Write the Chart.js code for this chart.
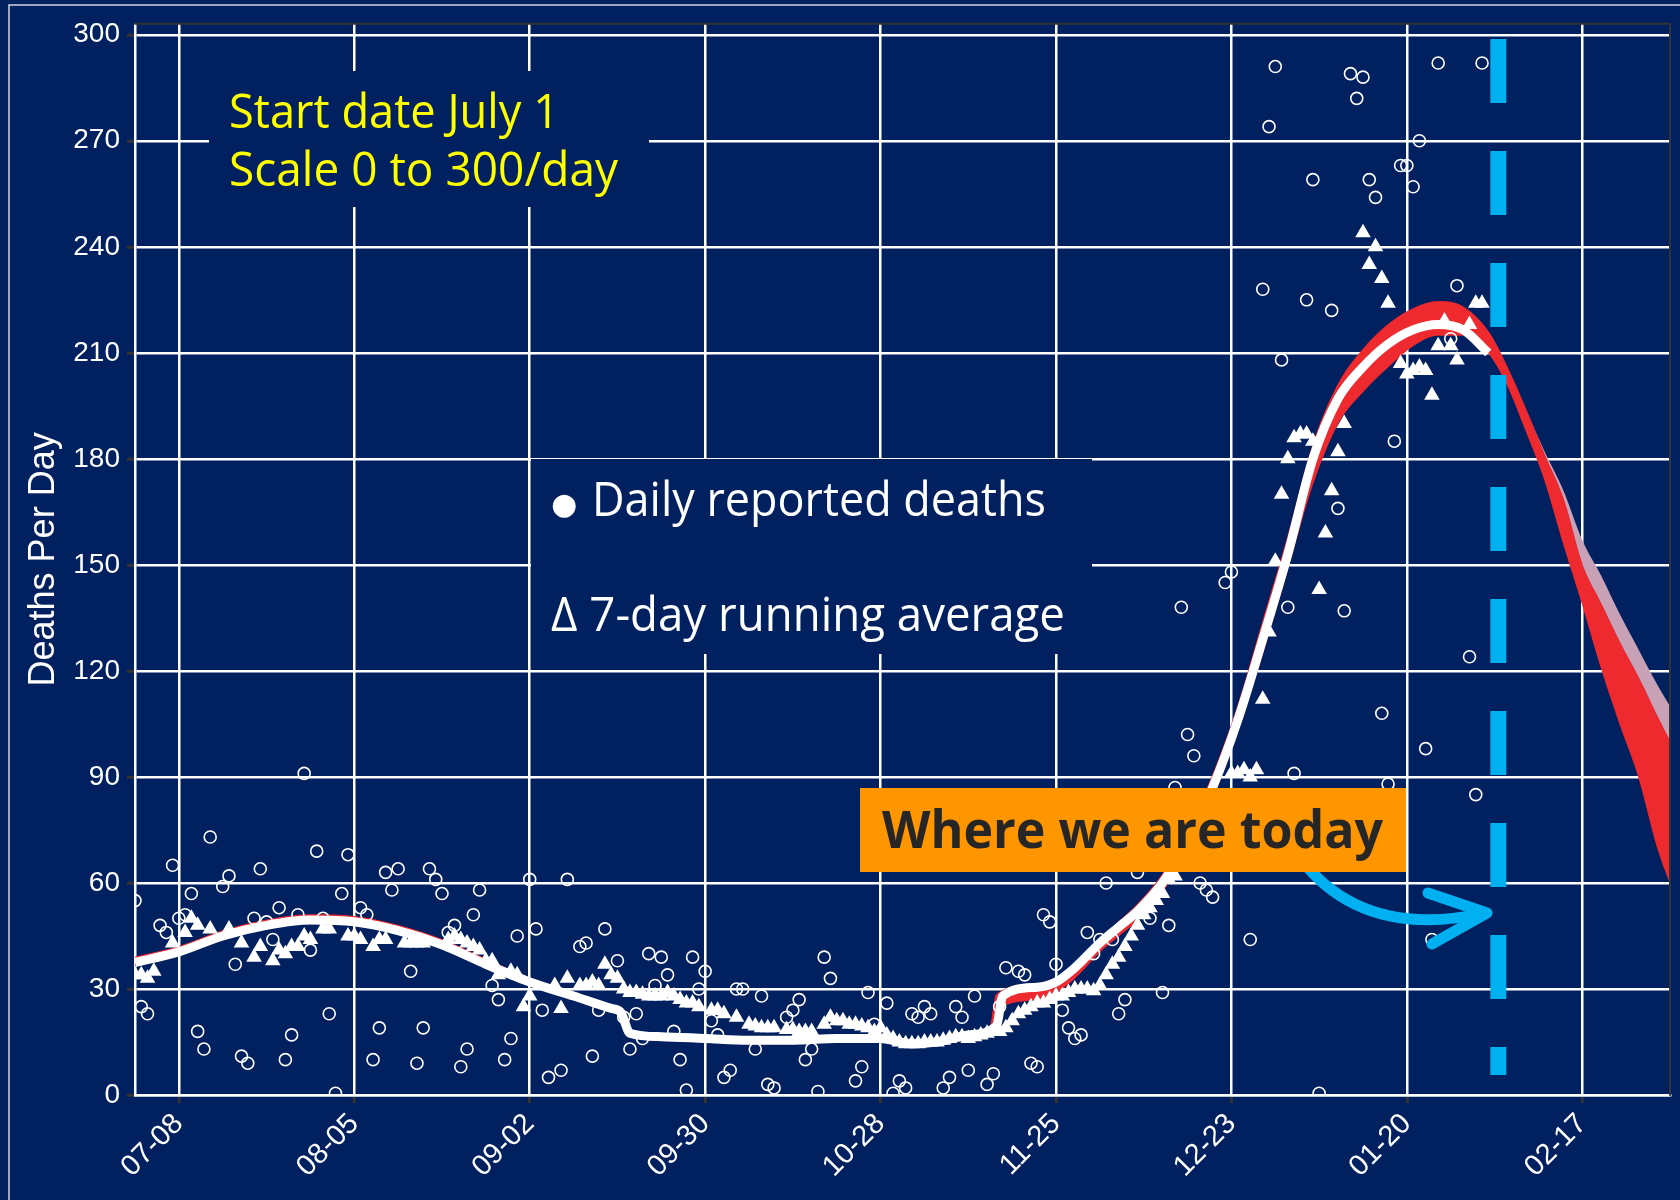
<!DOCTYPE html>
<html>
<head>
<meta charset="utf-8">
<title>Deaths per day</title>
<script src="https://cdn.jsdelivr.net/npm/chart.js@4.4.1/dist/chart.umd.min.js"></script>
<style>
  html, body { margin: 0; padding: 0; background: #002060; }
  canvas { display: block; }
</style>
</head>
<body>
<canvas id="deathsChart" width="1680" height="1200"></canvas>
<script>
// all x values are days counted from July 1
const tickDays = [7, 35, 63, 91, 119, 147, 175, 203, 231];
const tickLabels = ['07-08', '08-05', '09-02', '09-30', '10-28', '11-25', '12-23', '01-20', '02-17'];
const yTicks = [0, 30, 60, 90, 120, 150, 180, 210, 240, 270, 300];

// daily reported deaths (open circles)
const dailyDays = [0,1,2,4,5,6,7,8,9,10,11,12,14,15,16,17,18,19,20,21,22,23,24,25,26,27,28,29,30,31,32,33,34,36,37,38,39,40,41,42,44,45,46,47,48,49,50,51,52,53,54,55,57,58,59,60,61,63,64,65,66,68,69,71,72,73,74,75,77,78,79,80,81,82,83,84,85,86,87,88,89,90,91,92,93,94,95,96,97,99,100,101,102,104,105,106,107,108,109,110,111,115,116,117,118,120,121,122,123,124,125,126,127,129,130,131,132,133,134,136,137,138,139,141,142,143,144,145,146,147,148,149,150,151,152,153,154,155,156,157,158,160,162,164,165,166,167,168,169,170,171,172,174,175,178,180,181,182,183,184,185,187,188,189,191,192,193,194,195,196,197,198,199,200,201,202,203,204,205,206,207,208,210,211,213,214,215];
const dailyVals = [55,25,23,48,46,65,50,51,57,18,13,73,59,62,37,11,9,50,64,49,44,53,10,17,51,91,41,69,50,23,0.5,57,68,53,51,10,19,63,58,64,35,9,19,64,61,57,46,48,8,13,51,58,31,27,10,16,45,61,47,24,5,7,61,42,43,11,24,47,38,22,13,23,16,40,31,39,34,18,10,1.4,39,30,35,21,17,5,7,30,30,13,28,3,2,22,24,27,10,13,1,39,33,4,8,29,20,26,0.5,4,2,23,22,25,23,2,5,25,22,7,28,3,6,25,36,35,34,9,8,51,49,37,24,19,16,17,46,40,44,60,44,23,27,63,50,29,48,87,138,102,96,60,58,56,145,148,44,228,274,291,208,138,91,225,259,0.5,222,166,137,289,282,288,259,254,108,88,185,263,263,257,270,98,44,292,214,229,124,85,292];

// 7-day running average (filled triangles)
const avgDays = [0,1,2,3,6,8,9,10,12,15,17,19,20,22,23,24,25,26,27,28,30,31,34,35,36,38,39,40,43,44,45,46,50,51,52,53,54,55,56,57,58,60,61,62,63,67,68,69,71,72,73,74,75,76,77,78,79,80,81,82,83,84,85,86,87,88,89,90,92,93,94,96,98,99,100,101,102,104,105,106,107,108,110,111,112,113,114,115,116,117,118,119,120,121,122,123,124,125,126,127,128,129,130,131,132,133,134,135,136,137,138,139,140,141,142,143,144,145,146,147,148,149,150,151,152,153,154,155,156,157,158,159,160,161,162,163,164,165,166,175,176,177,178,179,180,181,182,183,184,185,186,187,188,189,190,191,192,193,196,197,198,199,200,202,203,204,205,206,207,208,209,210,211,213,214,215];
const avgVals = [34,34,33,35,43,46,50,48,47,47,43,39,42,38,41,40,42,42,45,44,47,47,45,45,44,42,44,44,43,43,43,43,44,45,44,43,42,41,38,38,34,35,34,25,28,31,24.5,33,31,31,32,31,37,34,33,30,29,29,28.5,28,28,28,29,28,27,26,26,25,24,24,23,22,20,19.5,19,19,19,18.5,18.5,18,18,18,20,22,21,21,20,20,19.5,19,18,19,17,16,15,14.5,14.5,14.5,15,15,15,15.5,16,16.5,16.5,16,16.5,17,17.5,18,18,19,21,23,24,25,26,26,27,28,28,29,30,30,30,29.5,31,34,37,39,42,45,48,51,53,55,57,61,62,91,91,92,90,92,112,131,151,170,180,186,187,187,185,143,159,171,182,190,244,235,240,231,224,207,204,205,206,205,198,212,219,212,208,218,224,224];

// fitted curve (thick white line)
const fitDays = [0,7,14,21,28,35,42,49,56,63,70,76,77.5,79,84,91,98,105,112,119,124,128,133,137.5,138.5,144,147,150,154,157,160,164,168,172,176,180,184,188,192,196,200,204,208,212,216];
const fitVals = [37.5,40.5,45,48,49.5,49,46.5,42.5,37,32,28,24.5,23.5,17.5,16.5,16,15.5,15.5,16,16,14.5,15,17,19.5,28,30.5,32,36,43,47.5,52,60,72,87,106,129,153,180,197,206,212.5,216.5,218,216.5,210];

// model projection band (red)
const bandDays = [0,7,14,21,28,35,42,49,56,63,70,76,77.5,79,84,91,98,105,112,119,124,128,133,136.5,137.5,144,147,150,154,157,160,164,168,172,176,180,184,188,192,196,200,204,208,212,216,219,222,225,228,231,234,237,240,243,245];
const bandUpper = [39,42,46.5,49.5,51,50.5,48,44,38.5,33,28.5,25,24,18,17,16.5,16,16,16.5,16.5,15,15.5,17.5,19.5,28.5,31.5,33,37,44,49,54,62.5,75,90.5,110,134,158,184,201,211,218,222.5,224.5,223,216,206,194,181,168.5,150,139,128,118,107,100];
const bandLower = [36.5,39.5,44,47,48.5,48,45.5,41.5,36,31,27,23.5,22.5,16.5,15.5,15,14.5,14.5,15,15,13.5,14,16,18,24,27,29,33,40.5,45,49.5,57.5,69,84,103,125,149,173,190,199,206,212,215,215,210,201,188,174,156,139,121,105,90,70,60];

// upper spread of the projection (pale band)
const spreadDays = [216,219,222,225,228,231,234,237,240,243,245];
const spreadUpper = [216,206,194,182,171,157,147,136,126,116,110];

const todayDay = 217.6;

const pts = (xs, ys) => xs.map((d, i) => ({ x: d, y: ys[i] }));

// fit a line of text to a measured width, keeping its height
function fitText(ctx, text, x, baseline, font, width) {
  ctx.font = font;
  const w = ctx.measureText(text).width;
  ctx.save();
  ctx.translate(x, baseline);
  ctx.scale(width / w, 1);
  ctx.fillText(text, 0, 0);
  ctx.restore();
}

const overlay = {
  id: 'overlay',
  beforeDraw(chart) {
    const ctx = chart.ctx;
    ctx.save();
    ctx.fillStyle = '#002060';
    ctx.fillRect(0, 0, chart.width, chart.height);
    // thin outer frame
    ctx.strokeStyle = '#cfd3e0';
    ctx.lineWidth = 1.5;
    ctx.beginPath();
    ctx.moveTo(9, chart.height);
    ctx.lineTo(9, 5);
    ctx.lineTo(chart.width, 5);
    ctx.stroke();
    ctx.restore();
  },
  afterDatasetsDraw(chart) {
    const { ctx, chartArea: a, scales: { x } } = chart;
    ctx.save();

    // "today" marker
    const tx = x.getPixelForValue(todayDay);
    ctx.strokeStyle = '#00b0f0';
    ctx.lineWidth = 16;
    ctx.setLineDash([64, 48]);
    ctx.beginPath();
    ctx.moveTo(tx, 39);
    ctx.lineTo(tx, 1075);
    ctx.stroke();
    ctx.setLineDash([]);

    // curved arrow
    ctx.lineWidth = 11;
    ctx.lineCap = 'round';
    ctx.lineJoin = 'round';
    ctx.beginPath();
    ctx.moveTo(1300, 858);
    ctx.quadraticCurveTo(1362, 940, 1485, 913);
    ctx.stroke();
    ctx.beginPath();
    ctx.moveTo(1428, 893);
    ctx.lineTo(1487, 913);
    ctx.lineTo(1432, 944);
    ctx.stroke();

    // start date box
    ctx.fillStyle = '#002060';
    ctx.fillRect(209, 71, 440, 136);
    ctx.fillStyle = '#ffff00';
    fitText(ctx, 'Start date July 1', 229, 128, '47px "Open Sans", "Noto Sans", sans-serif', 330);
    fitText(ctx, 'Scale 0 to 300/day', 229, 186, '47px "Open Sans", "Noto Sans", sans-serif', 389);

    // legend box
    ctx.fillStyle = '#002060';
    ctx.fillRect(531, 459, 561, 195);
    ctx.fillStyle = '#ffffff';
    ctx.font = '30px "DejaVu Sans", sans-serif';
    ctx.fillText('●', 551, 514);
    fitText(ctx, 'Daily reported deaths', 592, 516, '47px "Open Sans", "Noto Sans", sans-serif', 454);
    fitText(ctx, 'Δ 7-day running average', 551, 631, '47px "Open Sans", "Noto Sans", sans-serif', 514);

    // orange call-out
    ctx.fillStyle = '#ff9600';
    ctx.fillRect(860, 788, 546, 84);
    ctx.fillStyle = '#262626';
    fitText(ctx, 'Where we are today', 882, 848, 'bold 52px "Open Sans", "Noto Sans", sans-serif', 501);

    // dark frame on top and right of the plot
    ctx.strokeStyle = '#333333';
    ctx.lineWidth = 2;
    ctx.beginPath();
    ctx.moveTo(a.left, a.top);
    ctx.lineTo(a.right, a.top);
    ctx.lineTo(a.right, a.bottom);
    ctx.stroke();
    ctx.restore();
  }
};

const ctx = document.getElementById('deathsChart').getContext('2d');

new Chart(ctx, {
  type: 'line',
  data: {
    datasets: [
      {
        label: '7-day running average',
        data: pts(avgDays, avgVals),
        showLine: false,
        pointStyle: 'triangle',
        pointRadius: 9,
        pointBackgroundColor: '#ffffff',
        pointBorderColor: '#ffffff',
        pointBorderWidth: 0,
        order: 1
      },
      {
        label: 'Fit',
        data: pts(fitDays, fitVals),
        borderColor: '#ffffff',
        borderWidth: 9,
        pointRadius: 0,
        fill: false,
        cubicInterpolationMode: 'monotone',
        order: 2
      },
      {
        label: 'Daily reported deaths',
        data: pts(dailyDays, dailyVals),
        showLine: false,
        pointStyle: 'circle',
        pointRadius: 6,
        pointBackgroundColor: 'rgba(0,0,0,0)',
        pointBorderColor: '#ffffff',
        pointBorderWidth: 1.6,
        order: 3
      },
      {
        label: 'Projection upper',
        data: pts(bandDays, bandUpper),
        borderColor: '#ee2a2f',
        borderWidth: 1,
        backgroundColor: '#ee2a2f',
        pointRadius: 0,
        fill: '+1',
        cubicInterpolationMode: 'monotone',
        order: 4
      },
      {
        label: 'Projection lower',
        data: pts(bandDays, bandLower),
        borderColor: '#ee2a2f',
        borderWidth: 1,
        pointRadius: 0,
        fill: false,
        cubicInterpolationMode: 'monotone',
        order: 5
      },
      {
        label: 'Upper spread',
        data: pts(spreadDays, spreadUpper),
        borderColor: 'rgba(0,0,0,0)',
        borderWidth: 0,
        backgroundColor: '#c9a1b7',
        pointRadius: 0,
        fill: 3,
        cubicInterpolationMode: 'monotone',
        order: 6
      }
    ]
  },
  options: {
    responsive: false,
    animation: false,
    devicePixelRatio: 1,
    layout: { padding: { left: 0, right: 10, top: 22, bottom: 0 } },
    plugins: {
      legend: { display: false },
      tooltip: { enabled: false }
    },
    scales: {
      x: {
        type: 'linear',
        min: 0,
        max: 245,
        afterBuildTicks: (s) => { s.ticks = tickDays.map(v => ({ value: v })); },
        afterFit: (s) => { s.height = 105; },
        ticks: {
          autoSkip: false,
          maxRotation: 45,
          minRotation: 45,
          padding: 4,
          color: '#ffffff',
          font: { family: '"Liberation Sans", Arial, sans-serif', size: 29 },
          callback: (v) => tickLabels[tickDays.indexOf(v)]
        },
        grid: { color: '#ffffff', lineWidth: 2.5, tickColor: '#333333', tickLength: 8, tickWidth: 3 },
        border: { color: '#ffffff', width: 2.5 }
      },
      y: {
        min: 0,
        max: 303.1,
        afterBuildTicks: (s) => { s.ticks = yTicks.map(v => ({ value: v })); },
        afterFit: (s) => { s.width = 135; },
        ticks: {
          padding: 7,
          color: '#ffffff',
          font: { family: '"Liberation Sans", Arial, sans-serif', size: 28 }
        },
        grid: { color: '#ffffff', lineWidth: 2.5, tickColor: '#333333', tickLength: 8, tickWidth: 3 },
        border: { color: '#ffffff', width: 2.5 },
        title: {
          display: true,
          text: 'Deaths Per Day',
          color: '#ffffff',
          padding: { top: 22, bottom: 0 },
          font: { family: '"Liberation Sans", Arial, sans-serif', size: 36 }
        }
      }
    }
  },
  plugins: [overlay]
});
</script>
</body>
</html>
